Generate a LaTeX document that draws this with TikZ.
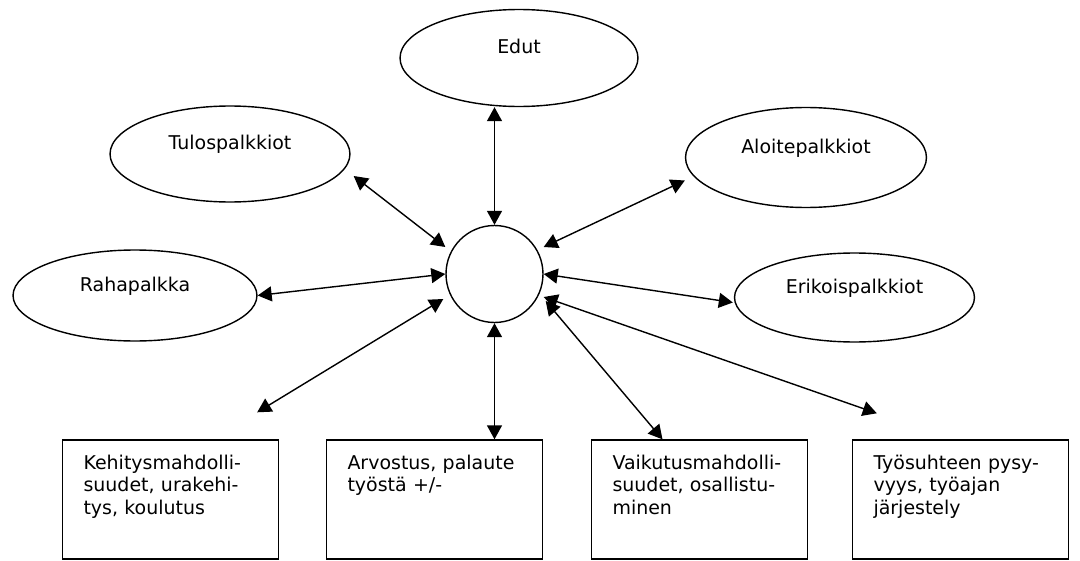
\documentclass[tikz,border=0pt]{standalone}
\usepackage{fontspec}
\setmainfont{DejaVu Sans}
\usepackage{tikz}
\usetikzlibrary{positioning,arrows.meta,shapes.geometric}

\begin{document}
\begin{tikzpicture}[x=0.02cm, y=-0.02cm, >={Triangle[length=2.8mm,width=3mm]},
  line width=0.8pt, font=\fontsize{10.8}{13}\selectfont,
  oval/.style={ellipse, draw, inner sep=1pt, text depth=0.45cm},
  box/.style={rectangle, draw, align=left, text width=3.48cm, inner xsep=0.42cm,
    inner ysep=0.1cm, text height=0.48cm, text depth=1.7cm}]
\useasboundingbox (0,0) rectangle (1080,561);

% middle
\node[circle, draw, minimum size=1.94cm, inner sep=0pt] (c) at (494.5,274) {};

% ellipses
\node[oval, minimum width=4.76cm, minimum height=1.94cm] (edut) at (519,58) {Edut};
\node[oval, minimum width=4.8cm, minimum height=1.92cm] (tulos) at (230,154) {Tulospalkkiot};
\node[oval, minimum width=4.88cm, minimum height=1.82cm] (raha) at (135,295.5) {Rahapalkka};
\node[oval, minimum width=4.82cm, minimum height=2cm] (aloite) at (806,157.5) {Aloitepalkkiot};
\node[oval, minimum width=4.8cm, minimum height=1.78cm] (erik) at (854.5,297.5) {Erikoispalkkiot};

% boxes
\node[box] (keh) at (170.5,499.5) {Kehitysmahdolli-\\suudet, urakehi-\\tys, koulutus};
\node[box] (arv) at (434.5,499.5) {Arvostus, palaute\\työstä +/-};
\node[box] (vaik) at (699.5,499.5) {Vaikutusmahdolli-\\suudet, osallistu-\\minen};
\node[box] (tyo) at (960.5,499.5) {Työsuhteen pysy-\\vyys, työajan\\järjestely};

% arrows
\draw[<->] (c.north) -- (c.north |- edut.south);
\draw[<->] ([shift={(0,-27)}]c.west) -- ([shift={(3,22)}]tulos.east);
\draw[<->] (c.west) -- (raha.east);
\draw[<->] ([shift={(-2,25)}]c.west) -- ([shift={(-22,-27)}]keh.north east);
\draw[<->] ([shift={(0,-27)}]c.east) -- ([shift={(0,23)}]aloite.west);
\draw[<->] (c.east) -- ([shift={(-1,5)}]erik.west);
\draw[<->] ([shift={(0,23)}]c.east) -- ([shift={(25,-26)}]tyo.north west);
\draw[<->] ([shift={(2,27)}]c.east) -- ([shift={(-37,0)}]vaik.north);
\draw[<->] (c.south) -- (c.south |- arv.north);
\end{tikzpicture}
\end{document}
